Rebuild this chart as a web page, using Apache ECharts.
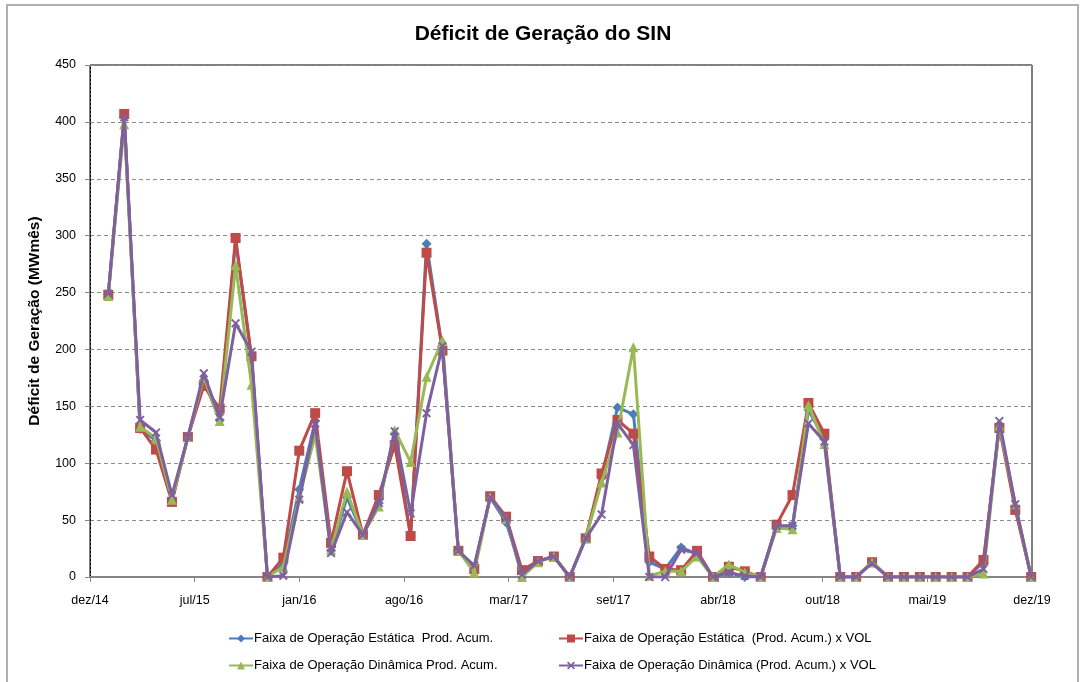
<!DOCTYPE html>
<html>
<head>
<meta charset="utf-8">
<title>Déficit de Geração do SIN</title>
<script src="https://cdn.jsdelivr.net/npm/echarts@6/dist/echarts.min.js"></script>
<style>
  html, body { margin: 0; padding: 0; background: #fff; }
  #div_deficit { width: 1086px; height: 682px; }
</style>
</head>
<body>
<div id="div_deficit"></div>
<script>
// months of each point (jan/15 .. nov/19)
var months = [
  'jan/15','fev/15','mar/15','abr/15','mai/15','jun/15','jul/15','ago/15','set/15','out/15','nov/15','dez/15',
  'jan/16','fev/16','mar/16','abr/16','mai/16','jun/16','jul/16','ago/16','set/16','out/16','nov/16','dez/16',
  'jan/17','fev/17','mar/17','abr/17','mai/17','jun/17','jul/17','ago/17','set/17','out/17','nov/17','dez/17',
  'jan/18','fev/18','mar/18','abr/18','mai/18','jun/18','jul/18','ago/18','set/18','out/18','nov/18','dez/18',
  'jan/19','fev/19','mar/19','abr/19','mai/19','jun/19','jul/19','ago/19','set/19','out/19','nov/19'
];

// labels shown on the x axis
var tick_labels = ['dez/14','jul/15','jan/16','ago/16','mar/17','set/17','abr/18','out/18','mai/19','dez/19'];

var estatica = [
  248, 405, 130, 120, 68, 123, 173, 138, 296, 192, 0, 12,
  77, 137, 23, 70, 37, 65, 126, 36, 293, 200, 23, 8,
  70, 48, 4, 14, 18, 0, 34, 87, 149, 143, 13, 7,
  26, 20, 0, 4, 0, 0, 44, 45, 147, 121, 0, 0,
  13, 0, 0, 0, 0, 0, 0, 13, 134, 62, 0
];
var estatica_vol = [
  248, 407, 131, 112, 66, 123, 168, 148, 298, 194, 0, 17,
  111, 144, 30, 93, 37, 72, 116, 36, 285, 199, 23, 7,
  71, 53, 6, 14, 18, 0, 34, 91, 138, 126, 18, 7,
  6, 23, 0, 9, 5, 0, 46, 72, 153, 126, 0, 0,
  13, 0, 0, 0, 0, 0, 0, 15, 131, 59, 0
];
var dinamica = [
  247, 398, 132, 122, 68, 123, 176, 137, 274, 169, 0, 9,
  70, 125, 24, 75, 37, 62, 129, 101, 176, 208, 23, 4,
  70, 51, 0, 13, 18, 0, 34, 83, 127, 202, 1, 5,
  5, 18, 0, 11, 4, 0, 43, 42, 151, 117, 0, 0,
  13, 0, 0, 0, 0, 0, 0, 3, 133, 64, 0
];
var dinamica_vol = [
  249, 404, 138, 127, 72, 123, 179, 140, 223, 198, 0, 1,
  68, 135, 21, 57, 37, 65, 128, 56, 144, 203, 23, 10,
  70, 52, 2, 14, 18, 0, 34, 55, 135, 116, 0, 0,
  24, 21, 0, 4, 1, 0, 45, 45, 135, 119, 0, 0,
  12, 0, 0, 0, 0, 0, 0, 7, 137, 64, 0
];

var names = [
  'Faixa de Operação Estática  Prod. Acum.',
  'Faixa de Operação Estática  (Prod. Acum.) x VOL',
  'Faixa de Operação Dinâmica Prod. Acum.',
  'Faixa de Operação Dinâmica (Prod. Acum.) x VOL'
];
var colors = ['#4A7EBB', '#BE4B48', '#98B954', '#7D60A0'];

// x position: first month sits a bit after the dez/14 edge
var x0 = 1.15;
var xmax = 59.2;
var xstep = xmax / 9;

function to_points(values) {
  return values.map(function (v, i) {
    return [x0 + i, v, months[i]];
  });
}

var font = 'Liberation Sans, Arial, sans-serif';
var cross = 'path://M0,1.5L1.5,0L5,3.5L8.5,0L10,1.5L6.5,5L10,8.5L8.5,10L5,6.5L1.5,10L0,8.5L3.5,5Z';

function make_series(idx, values, symbol, size) {
  return {
    name: names[idx],
    type: 'line',
    data: to_points(values),
    symbol: symbol,
    symbolSize: size,
    showAllSymbol: true,
    lineStyle: { width: 3, color: colors[idx] },
    itemStyle: { color: colors[idx] },
    z: 2 + idx,
    animation: false
  };
}

function make_legend(idx, left, top) {
  return {
    data: [names[idx]],
    left: left,
    top: top,
    itemWidth: 24,
    itemHeight: 10,
    itemGap: 0,
    textStyle: { fontFamily: font, fontSize: 13, color: '#000', padding: [0, 0, 0, -4] },
    selectedMode: false
  };
}

var chart_deficit = echarts.init(document.getElementById('div_deficit'));
chart_deficit.setOption({
  animation: false,
  backgroundColor: '#fff',
  title: {
    text: 'Déficit de Geração do SIN',
    left: 'center',
    top: 19,
    textStyle: { fontFamily: font, fontSize: 21, fontWeight: 'bold', color: '#000' }
  },
  graphic: [{
    type: 'rect',
    shape: { x: 7, y: 5, width: 1071, height: 700 },
    style: { fill: 'none', stroke: '#b0b0b0', lineWidth: 2 },
    silent: true
  }],
  legend: [
    make_legend(0, 223, 627),
    make_legend(1, 553, 627),
    make_legend(2, 223, 654),
    make_legend(3, 553, 654)
  ],
  tooltip: { trigger: 'axis' },
  grid: {
    left: 90,
    right: 54,
    top: 65,
    bottom: 105,
    show: true,
    borderColor: '#000',
    borderWidth: 1
  },
  xAxis: {
    type: 'value',
    min: 0,
    max: xmax,
    interval: xstep,
    axisLine: { show: true, lineStyle: { color: '#868686', width: 2 } },
    axisTick: { show: true, length: 5, lineStyle: { color: '#868686' } },
    splitLine: { show: false },
    axisLabel: {
      fontFamily: font,
      fontSize: 12.5,
      color: '#000',
      margin: 17,
      formatter: function (v) {
        return tick_labels[Math.round(v / xstep)] || '';
      }
    }
  },
  yAxis: {
    type: 'value',
    min: 0,
    max: 450,
    interval: 50,
    name: 'Déficit de Geração (MWmês)',
    nameLocation: 'middle',
    nameGap: 47,
    nameTextStyle: { fontFamily: font, fontSize: 15.5, fontWeight: 'bold', color: '#000' },
    axisLine: { show: true, lineStyle: { color: '#000', type: [2, 2], width: 1 } },
    axisTick: { show: true, length: 5, lineStyle: { color: '#868686' } },
    axisLabel: { fontFamily: font, fontSize: 12.5, color: '#000', margin: 14 },
    splitLine: { show: true, lineStyle: { color: '#8c8c8c', type: [4, 3], width: 1 } }
  },
  series: [
    make_series(0, estatica, 'diamond', 10),
    make_series(1, estatica_vol, 'rect', 10),
    make_series(2, dinamica, 'triangle', 10),
    make_series(3, dinamica_vol, cross, 9)
  ]
});
</script>
</body>
</html>
